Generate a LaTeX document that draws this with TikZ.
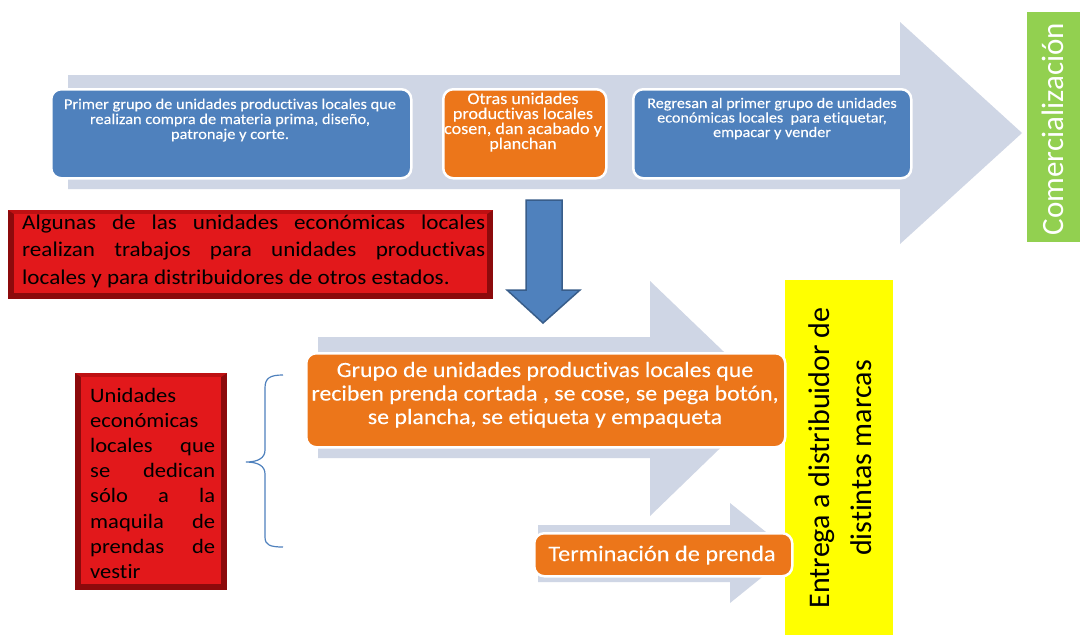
\documentclass[tikz,border=0pt]{standalone}
\usepackage{fontspec}
\setmainfont{Carlito}[Ligatures=NoCommon]
\newfontfamily\heavyw{Carlito}[FakeBold=0.1,Ligatures=NoCommon]
\newfontfamily\plainb{Carlito}[Ligatures=NoCommon]
\usepackage{graphicx}
\definecolor{arrowgray}{RGB}{207,214,229}
\definecolor{boxblue}{RGB}{79,129,189}
\definecolor{boxblueline}{RGB}{56,93,138}
\definecolor{boxorange}{RGB}{236,118,26}
\definecolor{boxgreen}{RGB}{146,208,80}
\definecolor{boxyellow}{RGB}{255,255,0}
\definecolor{facered}{RGB}{226,24,27}
\definecolor{darkred}{RGB}{140,10,12}
\definecolor{midred}{RGB}{190,16,18}
\newcommand{\xs}[1]{\scalebox{1.1}[1]{#1}}
\newcommand{\fs}[2]{\fontsize{#1}{#2}\selectfont}
\newcommand{\jline}[1]{\makebox[\linewidth][s]{#1}}
\tikzset{
  lightarrow/.style={fill=arrowgray, draw=none},
  roundbox/.style={rounded corners=10pt, draw=white, line width=2.5pt, inner sep=0pt, anchor=north west},
  bluebox/.style={roundbox, fill=boxblue},
  orangebox/.style={roundbox, fill=boxorange},
  flatbox/.style={draw=none, inner sep=0pt, anchor=north west},
  redface/.style={flatbox, fill=facered},
  wtext/.style={text=white, inner sep=0pt, anchor=base, font=\heavyw},
  btext/.style={text=black, inner sep=0pt, font=\plainb},
  downarrow/.style={fill=boxblue, draw=boxblueline, line width=1.5pt, line join=miter},
  bracestyle/.style={draw=boxblue, line width=1.2pt}
}
\begin{document}
\begin{tikzpicture}[x=1pt,y=-1pt]
\useasboundingbox (0,0) rectangle (1081,635);
\fill[white] (0,0) rectangle (1081,635);

% top big arrow
\fill[lightarrow] (68,75) -- (900,75) -- (900,22) -- (1022,133) -- (900,244) -- (900,189) -- (68,189) -- cycle;

% top boxes
\node[bluebox, minimum width=360pt, minimum height=89pt] (b1) at (50,88) {};
\node[orangebox, minimum width=163pt, minimum height=89pt] (b2) at (442,88) {};
\node[bluebox, minimum width=278pt, minimum height=89pt] (b3) at (632,88) {};
\node[wtext] (t1) at (230,109) {\xs{\parbox[t]{330pt}{\centering\fs{14.9}{15}Primer grupo de unidades productivas locales que\\realizan compra de materia prima, diseño,\\patronaje y corte.}}};
\node[wtext] (t2) at (523,104) {\xs{\parbox[t]{200pt}{\centering\fs{16.5}{15}Otras unidades\\productivas locales\\cosen, dan acabado y\\planchan}}};
\node[wtext] (t3) at (772,108) {\xs{\parbox[t]{280pt}{\centering\fs{14.7}{14.5}Regresan al primer grupo de unidades\\económicas locales\ \ para etiquetar,\\empacar y vender}}};

% green box
\node[flatbox, fill=boxgreen, minimum width=53pt, minimum height=230pt] (g) at (1027,12) {};
\node[text=white, inner sep=0pt, anchor=base, rotate=90, font=\plainb] (gt) at (1063,129) {\fs{31}{36}Comercialización};

% red box 1
\fill[darkred] (8,210) rectangle (493,299);
\fill[midred] (8,210) -- (493,210) -- (487,214) -- (14,214) -- cycle;
\node[redface, minimum width=473pt, minimum height=79pt] (r1) at (14,214) {};
\node[btext, anchor=base west] (r1t) at (22,229) {\xs{\parbox[t]{420.9pt}{\fs{21}{27.5}\jline{Algunas de las unidades económicas locales}\\\jline{realizan trabajos para unidades productivas}\\locales y para distribuidores de otros estados.}}};

% blue down arrow
\draw[downarrow] (526,200) -- (562,200) -- (562,290) -- (580,290) -- (543,323) -- (507,290) -- (526,290) -- cycle;

% lower arrows
\fill[lightarrow] (318,337) -- (650,337) -- (650,281) -- (772,398) -- (650,516) -- (650,458) -- (318,458) -- cycle;
\fill[lightarrow] (538,525) -- (730,525) -- (730,503) -- (792,553) -- (730,603) -- (730,582) -- (538,582) -- cycle;

% yellow box
\node[flatbox, fill=boxyellow, minimum width=108pt, minimum height=355pt] (y) at (785,280) {};
\node[btext, anchor=base, rotate=90] (yt) at (829,458) {\parbox[t]{320pt}{\centering\fs{30}{42}Entrega a distribuidor de\\distintas marcas}};

% middle orange boxes
\node[orangebox, minimum width=479pt, minimum height=94pt] (m1) at (305,352) {};
\node[wtext] (m1t) at (545,377) {\xs{\parbox[t]{450pt}{\centering\fs{21.7}{23.5}Grupo de unidades productivas locales que\\reciben prenda cortada , se cose, se pega botón,\\se plancha, se etiqueta y empaqueta}}};
\node[orangebox, minimum width=258pt, minimum height=43pt] (m2) at (533,532) {};
\node[wtext] (m2t) at (662,561) {\xs{\fs{22.1}{24}Terminación de prenda}};

% red box 2
\fill[darkred] (75,373) rectangle (227,590);
\fill[midred] (75,373) -- (227,373) -- (221,377) -- (81,377) -- cycle;
\node[redface, minimum width=140pt, minimum height=207pt] (r2) at (81,377) {};
\node[btext, anchor=base west] (r2t) at (90,402) {\xs{\parbox[t]{113.6pt}{\fs{20.5}{25.2}Unidades\\económicas\\\jline{locales que}\\\jline{se dedican}\\\jline{sólo a la}\\\jline{maquila de}\\\jline{prendas de}\\vestir}}};

% brace
\coordinate (bt) at (283,375);
\coordinate (bb) at (283,547);
\coordinate (btip) at (246,462);
\draw[bracestyle] (bt) .. controls (270,375) and (265,378) .. (265,388) -- (265,450) .. controls (265,458) and (258,462) .. (btip) .. controls (258,462) and (265,466) .. (265,474) -- (265,537) .. controls (265,545) and (270,547) .. (bb);
\end{tikzpicture}
\end{document}
